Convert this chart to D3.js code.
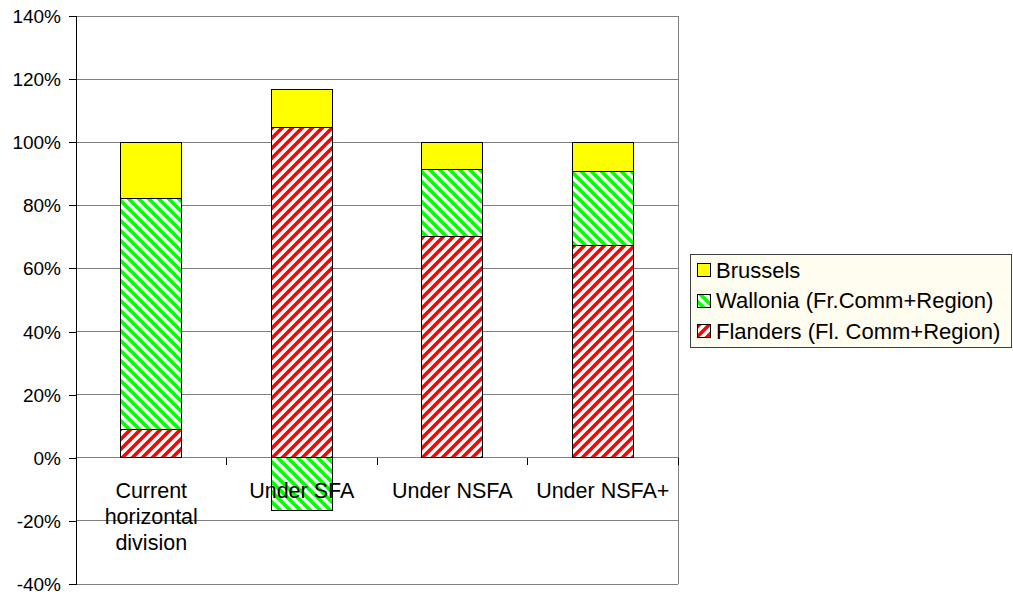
<!DOCTYPE html>
<html>
<head>
<meta charset="utf-8">
<script src="https://cdn.jsdelivr.net/npm/d3@7"></script>
<style>
  html, body { margin: 0; padding: 0; background: #fff; }
  svg { display: block; font-family: "Liberation Sans", Arial, sans-serif; }
</style>
</head>
<body>
<svg id="chart" width="1013" height="592"></svg>
<script>
// Budget share by entity under each financing scenario (fractions of total)
const categories = ["Current horizontal division", "Under SFA", "Under NSFA", "Under NSFA+"];
const flanders = [0.091, 1.048, 0.700, 0.672];
const wallonia = [0.732, -0.168, 0.213, 0.234];
const brussels = [0.177, 0.120, 0.087, 0.094];
const seriesNames = ["Flanders (Fl. Comm+Region)", "Wallonia (Fr.Comm+Region)", "Brussels"];
const yTicks = [-0.4, -0.2, 0, 0.2, 0.4, 0.6, 0.8, 1.0, 1.2, 1.4];

const rows = categories.map((c, i) => ({
  cat: c, f: flanders[i], w: wallonia[i], b: brussels[i]
}));

const svg = d3.select("#chart");
const plotLeft = 76, plotRight = 678, plotTop = 16, plotBottom = 584;

const x = d3.scaleBand().domain(categories).range([plotLeft, plotRight])
  .paddingInner(0.595).paddingOuter(0.2975);
const y = d3.scaleLinear().domain([-0.4, 1.4]).range([plotBottom, plotTop]);

// Hatch fills
const defs = svg.append("defs");
function hatch(id, color, dir) {
  const s = 10;
  const p = defs.append("pattern").attr("id", id)
    .attr("patternUnits", "userSpaceOnUse").attr("width", s).attr("height", s);
  p.append("rect").attr("width", s).attr("height", s).attr("fill", "#fff");
  const d = dir === "up"
    ? `M-3,3 L3,-3 M0,${s} L${s},0 M${s - 3},${s + 3} L${s + 3},${s - 3}`
    : `M-3,${s - 3} L3,${s + 3} M0,0 L${s},${s} M${s - 3},-3 L${s + 3},3`;
  p.append("path").attr("d", d).attr("stroke", color).attr("stroke-width", 3.6);
}
hatch("hatchRed", "#ff0000", "up");
hatch("hatchGreen", "#00ff00", "down");
const fills = { f: "url(#hatchRed)", w: "url(#hatchGreen)", b: "#ffff00" };

// Grid lines
svg.append("g").selectAll("line").data(yTicks).join("line")
  .attr("x1", plotLeft).attr("x2", plotRight)
  .attr("y1", d => y(d)).attr("y2", d => y(d))
  .attr("stroke", "#808080").attr("stroke-width", 1)
  .attr("shape-rendering", "crispEdges");
// Right plot border
svg.append("line").attr("x1", plotRight).attr("x2", plotRight)
  .attr("y1", plotTop).attr("y2", plotBottom)
  .attr("stroke", "#808080").attr("shape-rendering", "crispEdges");

// Stacked bars (positive above zero, negative below)
const stack = d3.stack().keys(["f", "w", "b"]).offset(d3.stackOffsetDiverging);
const stacked = stack(rows);
svg.append("g").selectAll("g").data(stacked).join("g")
  .attr("fill", s => fills[s.key])
  .selectAll("rect").data(s => s).join("rect")
  .attr("x", d => x(d.data.cat))
  .attr("width", x.bandwidth())
  .attr("y", d => y(Math.max(d[0], d[1])))
  .attr("height", d => Math.abs(y(d[0]) - y(d[1])))
  .attr("stroke", "#000").attr("stroke-width", 1)
  .attr("shape-rendering", "crispEdges");

// Y axis, percent labels with a plain hyphen for negatives
const pct = d => Math.round(d * 100) + "%";
const yAxis = d3.axisLeft(y).tickValues(yTicks)
  .tickFormat(pct).tickSize(7).tickPadding(8);
const yg = svg.append("g").attr("transform", `translate(${plotLeft},0)`).call(yAxis);
yg.select(".domain").attr("stroke", "#000").attr("d", `M-7,${plotTop}H0V${plotBottom}H-7`);
yg.selectAll(".tick line").attr("stroke", "#000");
yg.selectAll(".tick text").attr("fill", "#000").style("font-size", "19px")
  .attr("dy", "0.34em")
  .style("font-family", "'Liberation Sans', Arial, sans-serif");
yg.attr("shape-rendering", "crispEdges");

// Category ticks along the zero line
const bounds = [plotLeft].concat(categories.map(c => x(c) + x.bandwidth() / 2 + x.step() / 2));
svg.append("g").selectAll("line").data(bounds).join("line")
  .attr("x1", d => d).attr("x2", d => d)
  .attr("y1", y(0)).attr("y2", y(0) + 7)
  .attr("stroke", "#000").attr("shape-rendering", "crispEdges");

// Category labels, wrapped
const labelG = svg.append("g");
categories.forEach(c => {
  const cx = x(c) + x.bandwidth() / 2;
  const t = labelG.append("text")
    .attr("x", cx).attr("y", 498)
    .attr("text-anchor", "middle").style("font-size", "21.5px").attr("fill", "#000");
  const words = c.split(" ");
  let line = [];
  let tspan = t.append("tspan").attr("x", cx).attr("dy", 0);
  words.forEach(w => {
    line.push(w);
    tspan.text(line.join(" "));
    if (tspan.node().getComputedTextLength() > 148 && line.length > 1) {
      line.pop();
      tspan.text(line.join(" "));
      line = [w];
      tspan = t.append("tspan").attr("x", cx).attr("dy", 26).text(w);
    }
  });
});

// Legend
const legend = svg.append("g").attr("transform", "translate(690,254)");
legend.append("rect").attr("x", 0.5).attr("y", 0.5).attr("width", 321).attr("height", 93)
  .attr("fill", "#fffcf0").attr("stroke", "#404040");
const legendItems = ["b", "w", "f"];
const legendLabels = { b: seriesNames[2], w: seriesNames[1], f: seriesNames[0] };
legendItems.forEach((k, i) => {
  const gy = 16 + i * 30.5;
  legend.append("rect").attr("x", 7.5).attr("y", gy - 6.5).attr("width", 13).attr("height", 13)
    .attr("fill", fills[k]).attr("stroke", "#000").attr("shape-rendering", "crispEdges");
  legend.append("text").attr("x", 26).attr("y", gy + 7.5)
    .style("font-size", "22px").attr("fill", "#000").text(legendLabels[k]);
});
</script>
</body>
</html>
